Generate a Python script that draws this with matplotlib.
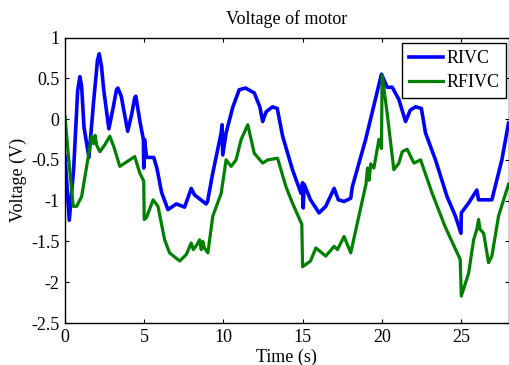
import matplotlib
matplotlib.use("Agg")
import matplotlib.pyplot as plt

plt.rcParams['font.family'] = ['Liberation Serif', 'DejaVu Serif']
plt.rcParams['axes.unicode_minus'] = False

title = "Voltage of motor"
xlabel = "Time (s)"
ylabel = "Voltage (V)"
series_names = ["RIVC", "RFIVC"]

rivc_t = [0.0, 0.27, 0.55, 0.8, 0.94, 1.05, 1.2, 1.51, 1.8, 2.05, 2.16, 2.3, 2.45, 2.77, 3.05, 3.25, 3.34, 3.55, 3.96, 4.2, 4.4, 4.47, 4.75, 4.95, 4.97, 5.02, 5.15, 5.6, 5.8, 6.1, 6.5,
          7.03, 7.55, 7.97, 8.18, 8.91, 9.0, 9.33, 9.86, 9.92, 9.96, 10.17, 10.6, 11.0, 11.4, 11.95, 12.3, 12.48, 12.7, 13.1, 13.4,
          13.74, 14.36, 14.9, 15.0, 15.04, 15.1, 15.5, 16.04, 16.46, 16.99, 17.26, 17.62, 18.04, 18.14, 18.98, 19.98, 20.34, 20.66,
          21.08, 21.5, 21.8, 22.13, 22.5, 22.76, 23.39, 24.12, 24.65, 25.0, 25.02, 25.48, 26.0, 26.11, 26.95, 27.58, 28.0]
rivc_v = [-0.45, -1.24, -0.6, 0.35, 0.52, 0.4, -0.1, -0.47, 0.2, 0.72, 0.80, 0.65, 0.35, -0.12, 0.15, 0.36, 0.38, 0.28, -0.15, 0.05, 0.26, 0.28, -0.05, -0.25, -0.60, -0.25, -0.47, -0.47, -0.6, -0.9, -1.11,
          -1.04, -1.08, -0.85, -0.93, -1.04, -1.01, -0.66, -0.17, -0.07, -0.44, -0.17, 0.15, 0.36, 0.38, 0.32, 0.15, -0.03, 0.09, 0.15, 0.13,
          -0.21, -0.62, -0.91, -0.78, -1.09, -0.80, -0.99, -1.15, -1.07, -0.85, -0.99, -1.01, -0.97, -0.83, -0.25, 0.55, 0.39, 0.39,
          0.24, -0.03, 0.11, 0.15, 0.13, -0.17, -0.50, -0.95, -1.19, -1.40, -1.15, -1.03, -0.87, -0.99, -0.99, -0.50, -0.05]

rfivc_t = [0.0, 0.2, 0.52, 0.73, 1.05, 1.47, 1.68, 1.8, 1.9, 2.0, 2.2, 2.5, 2.83, 3.1, 3.46, 4.4, 4.72, 4.97, 5.0, 5.14, 5.56, 5.87, 6.29, 6.6,
           7.24, 7.66, 7.97, 8.1, 8.3, 8.5, 8.6, 8.7, 8.8, 9.02, 9.33, 9.86, 9.96, 10.17, 10.49, 10.8, 11.12, 11.54, 11.95, 12.48, 12.8, 13.42,
           13.95, 14.36, 14.95, 15.0, 15.5, 15.84, 16.46, 16.99, 17.2, 17.62, 18.04, 18.78, 19.0, 19.1, 19.2, 19.3, 19.5, 19.82, 19.98, 20.02,
           20.34, 20.76, 21.08, 21.29, 21.6, 22.03, 22.45, 23.18, 24.0, 24.95, 25.02, 25.48, 25.8, 26.0, 26.11, 26.2, 26.43, 26.74, 26.95,
           27.37, 27.69, 28.0]
rfivc_v = [0.03, -0.42, -1.07, -1.07, -0.95, -0.46, -0.21, -0.3, -0.2, -0.32, -0.40, -0.32, -0.21, -0.35, -0.58, -0.46, -0.66, -0.76, -1.23, -1.21, -0.99, -1.07, -1.48, -1.64,
           -1.74, -1.66, -1.52, -1.6, -1.55, -1.48, -1.6, -1.5, -1.58, -1.64, -1.19, -0.91, -0.78, -0.50, -0.58, -0.50, -0.25, -0.07, -0.42, -0.54, -0.50, -0.48,
           -0.83, -1.03, -1.29, -1.81, -1.74, -1.58, -1.68, -1.56, -1.60, -1.44, -1.64, -0.99, -0.8, -0.6, -0.75, -0.55, -0.6, -0.25, -0.36, 0.54,
           0.07, -0.62, -0.54, -0.40, -0.37, -0.54, -0.50, -0.91, -1.32, -1.72, -2.17, -1.89, -1.48, -1.35, -1.23, -1.35, -1.40, -1.76, -1.68,
           -1.19, -0.99, -0.80]

xticks = [0, 5, 10, 15, 20, 25]
yticks = [1, 0.5, 0, -0.5, -1, -1.5, -2, -2.5]
ytick_labels = ["1", "0.5", "0", "-0.5", "-1", "-1.5", "-2", "-2.5"]

W, H = 509, 365
fig = plt.figure(figsize=(W / 100, H / 100), dpi=100)
ax = fig.add_axes([65 / W, (H - 323) / H, (508.5 - 65) / W, (323 - 37.5) / H])

ax.plot(rivc_t, rivc_v, color=(0, 0, 1), lw=2.6, label=series_names[0], solid_joinstyle='round')
ax.plot(rfivc_t, rfivc_v, color=(0, 0.5, 0), lw=2.3, label=series_names[1], solid_joinstyle='round')

ax.set_xlim(0, 28)
ax.set_ylim(-2.5, 1)
ax.set_xticks(xticks)
ax.set_xticklabels([str(v) for v in xticks])
ax.set_yticks(yticks)
ax.set_yticklabels(ytick_labels)
ax.tick_params(direction='in', top=True, right=True, length=3, width=0.8, labelsize=13, pad=4)
for s in ax.spines.values():
    s.set_linewidth(1.0)
    s.set_color('black')

ax.set_title(title, fontsize=13, pad=10)
ax.set_xlabel(xlabel, fontsize=13, labelpad=2.5)
ax.set_ylabel(ylabel, fontsize=13, labelpad=3)

leg = ax.legend(loc='upper right', bbox_to_anchor=(0.995, 0.98), fontsize=13, handlelength=1.9,
                fancybox=False, framealpha=1, edgecolor='black', borderpad=0.38, labelspacing=0.38,
                handletextpad=0.2, borderaxespad=0)
leg.get_frame().set_linewidth(1.0)

fig.savefig("out.png", dpi=100)
